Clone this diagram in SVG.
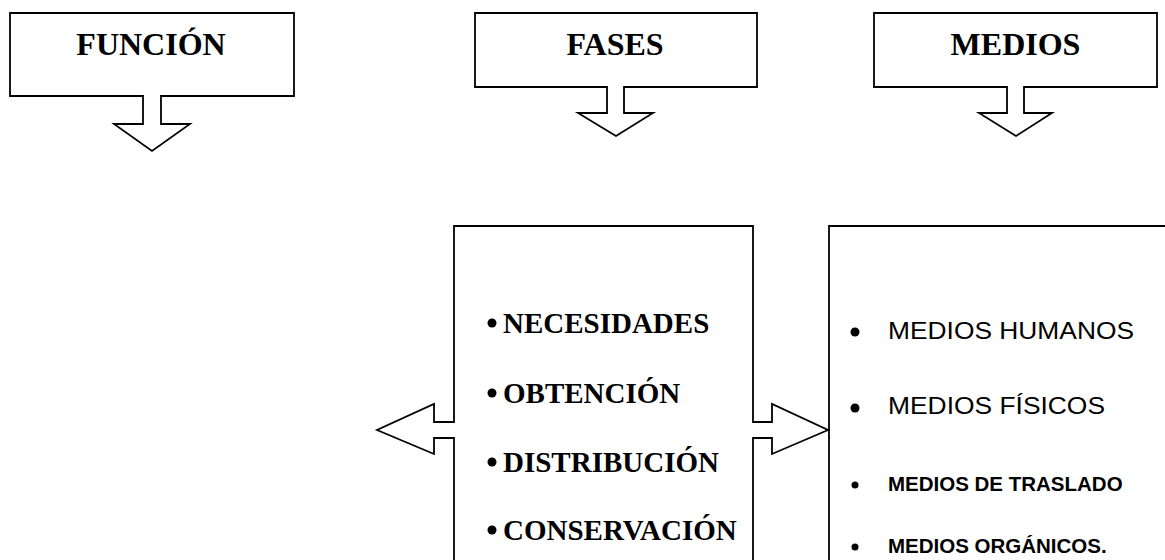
<svg xmlns="http://www.w3.org/2000/svg" width="1165" height="560" viewBox="0 0 1165 560">
<style>
.shape{fill:#fff;stroke:#000;stroke-width:1.8;stroke-linejoin:miter}
.line{fill:none;stroke:#000;stroke-width:1.8}
.hdr{font-family:"Liberation Serif","Times New Roman",serif;font-weight:bold;font-size:32px;fill:#000;text-anchor:middle}
.ph{font-family:"Liberation Serif","Times New Roman",serif;font-weight:bold;font-size:29px;fill:#000}
.mr{font-family:"Liberation Sans",Arial,sans-serif;font-size:24px;fill:#000}
.mb{font-family:"Liberation Sans",Arial,sans-serif;font-weight:bold;font-size:20.5px;fill:#000}
</style>
<rect width="1165" height="560" fill="#fff"/>
<g id="funcion">
<path class="shape" d="M10,13 H294 V96 H161 V124 H190 L152,151 L114,124 H143 V96 H10 Z"/>
<text class="hdr" x="151" y="55">FUNCIÓN</text>
</g>
<g id="fases">
<path class="shape" d="M475,13 H757 V87 H624 V113 H653 L616,136 L578,113 H607 V87 H475 Z"/>
<text class="hdr" x="615" y="55">FASES</text>
</g>
<g id="medios">
<path class="shape" d="M874,13 H1157 V87 H1024 V113 H1052 L1016,136 L979,113 H1007 V87 H874 Z"/>
<text class="hdr" x="1015.5" y="55">MEDIOS</text>
</g>
<g id="fases-lista">
<path class="shape" d="M454,562 V438 H434 V454 L377,430 L434,404 V422 H454 V226 H753 V422 H772 V404 L828,430 L772,454 V438 H753 V562"/>
<circle cx="492" cy="323" r="4.5"/>
<text class="ph" x="503" y="333">NECESIDADES</text>
<circle cx="492" cy="393" r="4.5"/>
<text class="ph" x="503" y="403">OBTENCIÓN</text>
<circle cx="492" cy="462" r="4.5"/>
<text class="ph" x="503" y="472">DISTRIBUCIÓN</text>
<circle cx="492" cy="530" r="4.5"/>
<text class="ph" x="503" y="540">CONSERVACIÓN</text>
</g>
<g id="medios-lista">
<path class="line" d="M829,562 V226 H1170"/>
<circle cx="855" cy="332" r="4.5"/>
<text class="mr" x="888" y="339" textLength="246" lengthAdjust="spacingAndGlyphs">MEDIOS HUMANOS</text>
<circle cx="855" cy="408" r="4.5"/>
<text class="mr" x="888" y="414" textLength="217" lengthAdjust="spacingAndGlyphs">MEDIOS FÍSICOS</text>
<circle cx="855" cy="485" r="3.5"/>
<text class="mb" x="888" y="491">MEDIOS DE TRASLADO</text>
<circle cx="855" cy="547" r="3.5"/>
<text class="mb" x="888" y="553">MEDIOS ORGÁNICOS.</text>
</g>
<g id="connectors"></g>
</svg>
